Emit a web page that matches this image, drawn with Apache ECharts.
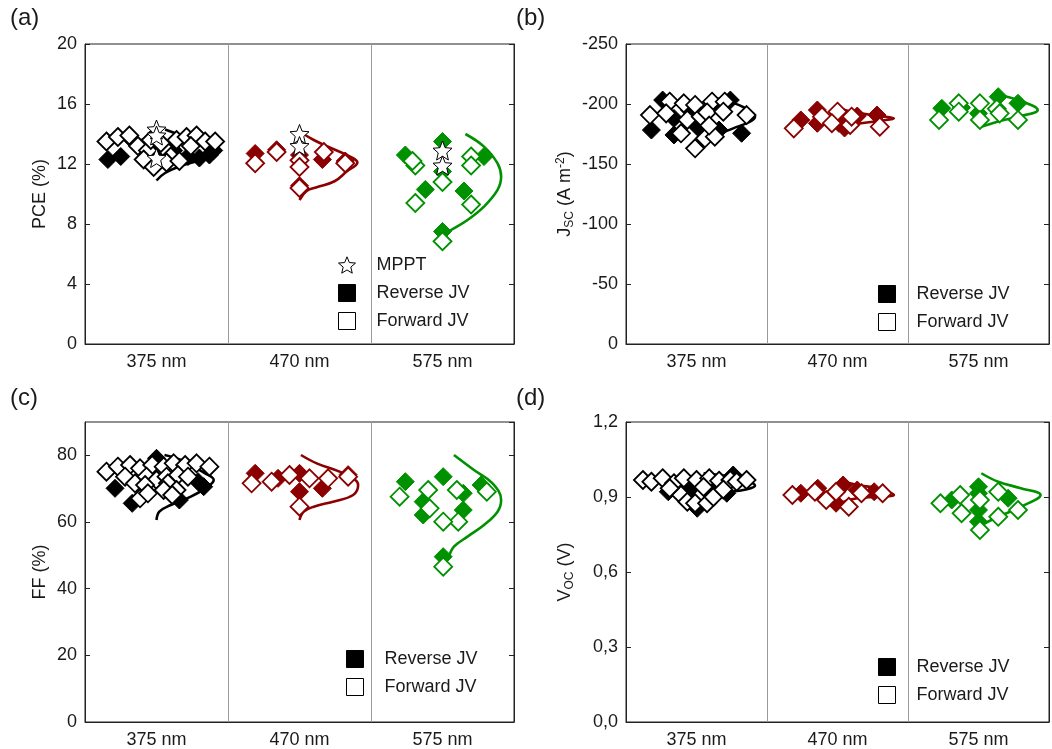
<!DOCTYPE html>
<html><head><meta charset="utf-8">
<script src="https://cdn.jsdelivr.net/npm/echarts@6/dist/echarts.min.js"></script>
<style>html,body{margin:0;padding:0;background:#fff}#c{width:1052px;height:749px}</style>
</head><body><div id="c"></div>
<script>
const groupLabels = ['375 nm', '470 nm', '575 nm'];
const groupColors = ['#000000', '#8b0000', '#009100'];

// (a) PCE (%)  points: [position along group axis, value]
const pceReverse = [
  [[0.16,12.3],[0.25,12.5],[0.33,13.6],[0.40,13.1],[0.47,12.6],[0.62,12.9],[0.72,12.5],[0.80,12.4],[0.87,12.6],[0.90,12.9]],
  [[1.19,12.7],[1.34,12.95],[1.50,12.6],[1.50,10.55],[1.66,12.3],[1.82,12.2]],
  [[2.24,12.6],[2.50,13.5],[2.50,11.5],[2.38,10.3],[2.65,10.2],[2.79,12.5],[2.50,7.5]]
];
const pceForward = [
  [[0.15,13.5],[0.23,13.8],[0.31,13.9],[0.37,13.2],[0.44,12.9],[0.46,13.6],[0.55,13.1],[0.60,12.5],[0.64,13.6],[0.71,13.8],[0.78,13.9],[0.84,13.5],[0.91,13.5],[0.41,12.3],[0.48,11.8],[0.57,12.1],[0.66,12.2],[0.53,13.4],[0.74,13.2]],
  [[1.19,12.05],[1.34,12.8],[1.50,12.25],[1.50,11.8],[1.50,10.4],[1.67,12.8],[1.82,12.05]],
  [[2.31,11.9],[2.29,12.2],[2.50,10.8],[2.31,9.4],[2.70,9.3],[2.70,12.5],[2.70,11.9],[2.50,6.85]]
];
const pceMPPT = [[0.5,14.3],[0.5,13.9],[0.5,12.4],[1.5,14.0],[1.5,13.2],[2.5,12.9],[2.5,11.9]];
// distribution curves: [offset from group centre, value]
const pceFit = [
  [[0.06,14.3],[0.2,13.8],[0.36,13.2],[0.40,12.9],[0.34,12.4],[0.18,11.9],[0.06,11.4],[0.0,10.9]],
  [[0.02,14.05],[0.1,13.6],[0.2,13.15],[0.33,12.6],[0.405,12.1],[0.33,11.5],[0.245,10.85],[0.12,10.45],[0.05,10.2],[0.0,9.6]],
  [[0.16,14.0],[0.29,13.16],[0.385,12.04],[0.41,11.16],[0.385,10.27],[0.29,9.16],[0.175,8.27],[0.06,7.6],[0.0,7.2]]
];

// (b) Jsc (A m^-2)
const jscReverse = [
  [[0.18,-178.3],[0.26,-203.3],[0.34,-188],[0.34,-174.2],[0.505,-181.1],[0.66,-197.8],[0.66,-178.3],[0.74,-203.3],[0.82,-175.6],[0.45,-195]],
  [[1.24,-186.7],[1.357,-195],[1.357,-183.9],[1.51,-183.9],[1.55,-180],[1.64,-190],[1.78,-190.8]],
  [[2.24,-196.4],[2.38,-197],[2.50,-192.2],[2.64,-206.1],[2.78,-200.6]]
];
const jscForward = [
  [[0.17,-190.8],[0.31,-201.9],[0.285,-192.2],[0.41,-200.6],[0.49,-199.2],[0.39,-175.6],[0.435,-186.7],[0.53,-189.4],[0.49,-163.1],[0.56,-171.4],[0.61,-201.9],[0.575,-193],[0.63,-172.8],[0.70,-201.9],[0.69,-193.6],[0.855,-190.8],[0.59,-182]],
  [[1.19,-179.7],[1.39,-189.4],[1.50,-193.6],[1.59,-182.5],[1.60,-189.4],[1.80,-181.1],[1.46,-184]],
  [[2.22,-186.7],[2.36,-200.6],[2.36,-193.6],[2.51,-200.6],[2.51,-186.7],[2.63,-196],[2.65,-192.2],[2.78,-186.7]]
];
const jscFit = [
  [[0.02,-164],[0.12,-172.8],[0.26,-179.7],[0.38,-185.3],[0.415,-189.4],[0.35,-196.4],[0.235,-201.9],[0.13,-204.7]],
  [[0.01,-197],[0.1,-193.5],[0.3,-190],[0.40,-188],[0.3,-186],[0.1,-182.5],[0.01,-178]],
  [[0.135,-207.5],[0.28,-203.3],[0.42,-195],[0.28,-189.4],[0.135,-185.3],[0.02,-181]]
];

// (c) FF (%)
const ffReverse = [
  [[0.21,70.1],[0.33,65.6],[0.45,74.5],[0.50,79.1],[0.58,73.0],[0.66,66.6],[0.79,72.1],[0.83,70.6]],
  [[1.19,74.6],[1.35,73.1],[1.50,74.6],[1.50,69.1],[1.66,70.1],[1.84,74.2]],
  [[2.24,72.1],[2.365,66.1],[2.365,62.1],[2.505,73.6],[2.645,68.6],[2.645,63.6],[2.77,71.1],[2.505,49.6]]
];
const ffForward = [
  [[0.15,75.1],[0.23,76.6],[0.315,77.1],[0.385,76.1],[0.47,77.1],[0.55,76.6],[0.62,77.6],[0.70,77.1],[0.78,77.6],[0.87,76.6],[0.28,73.6],[0.43,73.6],[0.50,72.6],[0.57,73.6],[0.65,74.1],[0.72,73.6],[0.35,71.6],[0.42,71.1],[0.58,71.6],[0.64,69.6],[0.385,67.1],[0.44,68.6],[0.55,69.6],[0.61,68.1]],
  [[1.165,71.6],[1.305,72.1],[1.43,74.1],[1.57,73.1],[1.50,64.6],[1.70,73.1],[1.84,73.6]],
  [[2.20,67.6],[2.40,69.6],[2.41,64.1],[2.60,69.6],[2.61,60.1],[2.505,60.1],[2.81,69.1],[2.505,46.6]]
];
const ffFit = [
  [[0.056,80.1],[0.17,78.6],[0.34,74.6],[0.40,72.6],[0.36,70.6],[0.24,67.6],[0.10,65.1],[0.02,63.1],[0.0,60.6]],
  [[0.01,80.1],[0.12,77.6],[0.28,75.1],[0.39,72.6],[0.41,71.1],[0.375,68.1],[0.235,66.1],[0.10,64.6],[0.03,63.1],[0.0,60.6]],
  [[0.08,80.1],[0.22,75.6],[0.35,71.6],[0.41,66.6],[0.385,63.1],[0.29,59.1],[0.175,55.6],[0.08,52.6],[0.045,49.6]]
];

// (d) Voc (V)
const vocReverse = [
  [[0.30,0.921],[0.45,0.935],[0.495,0.935],[0.505,0.855],[0.60,0.928],[0.66,0.948],[0.715,0.915],[0.76,0.988]],
  [[1.24,0.915],[1.36,0.935],[1.49,0.875],[1.54,0.948],[1.64,0.928],[1.76,0.921]],
  [[2.31,0.888],[2.50,0.941],[2.50,0.915],[2.50,0.848],[2.50,0.801],[2.71,0.895]]
];
const vocForward = [
  [[0.12,0.968],[0.18,0.961],[0.26,0.975],[0.34,0.955],[0.41,0.975],[0.50,0.968],[0.59,0.975],[0.66,0.965],[0.74,0.968],[0.785,0.961],[0.855,0.968],[0.39,0.908],[0.435,0.881],[0.53,0.905],[0.49,0.875],[0.575,0.875],[0.62,0.9],[0.31,0.935],[0.55,0.94],[0.69,0.93]],
  [[1.18,0.908],[1.34,0.921],[1.42,0.888],[1.49,0.921],[1.58,0.861],[1.67,0.915],[1.82,0.915]],
  [[2.23,0.875],[2.37,0.908],[2.38,0.835],[2.51,0.888],[2.51,0.768],[2.64,0.921],[2.64,0.821],[2.78,0.848]]
];
const vocFit = [
  [[0.05,0.995],[0.2,0.985],[0.35,0.967],[0.415,0.945],[0.35,0.93],[0.21,0.918],[0.06,0.9],[0.0,0.885]],
  [[0.01,0.968],[0.14,0.948],[0.28,0.935],[0.40,0.908],[0.28,0.901],[0.14,0.895],[0.045,0.881],[0.0,0.87]],
  [[0.02,0.995],[0.14,0.961],[0.30,0.935],[0.44,0.908],[0.30,0.861],[0.14,0.821],[0.045,0.795],[0.0,0.781]]
];

const FONT = '"Liberation Sans", Arial, sans-serif';
const TXT = '#1a1a1a';
const STAR = 'path://M12,1.5 L14.9,8.6 L22.5,9.2 L16.7,14.2 L18.5,21.7 L12,17.7 L5.5,21.7 L7.3,14.2 L1.5,9.2 L9.1,8.6 Z';

const grids = [
  {left: 85, top: 44, width: 429, height: 300},
  {left: 626, top: 44, width: 429, height: 300},
  {left: 85, top: 422, width: 429, height: 300},
  {left: 626, top: 422, width: 429, height: 300}
].map(g => Object.assign({show: true, borderColor: '#222', borderWidth: 1, backgroundColor: 'transparent'}, g));

const xAxes = grids.map((g, i) => ({
  type: 'value', gridIndex: i, min: 0, max: 3, interval: 0.5,
  axisLine: {show: true, lineStyle: {color: '#222', width: 1}},
  axisTick: {show: false},
  splitLine: {show: false},
  axisLabel: {
    fontSize: 18, color: TXT, fontFamily: FONT, margin: 9,
    formatter: v => { const k = Math.floor(v); return Math.abs(v - k - 0.5) < 1e-6 ? groupLabels[k] : ''; }
  }
}));

const yDefs = [
  {min: 0, max: 20, interval: 4, name: 'PCE (%)', nameGap: 36},
  {min: -250, max: 0, interval: 50, inverse: true,
   name: '{n|J}{s|SC}{n| (A m}{p|-2}{n|)}', nameGap: 50},
  {min: 0, max: 90, interval: 20, name: 'FF (%)', nameGap: 36, showMaxLabel: false},
  {min: 0, max: 1.2, interval: 0.3, name: '{n|V}{s|OC}{n| (V)}', nameGap: 50,
   fmt: v => v.toFixed(1).replace('.', ',')}
];
const yAxes = [];
yDefs.forEach((d, i) => {
  yAxes.push({
    type: 'value', gridIndex: i, position: 'left', min: d.min, max: d.max, interval: d.interval,
    inverse: !!d.inverse,
    axisLine: {show: true, lineStyle: {color: '#222', width: 1}},
    axisTick: {show: true, inside: true, length: 5, lineStyle: {color: '#222'}},
    splitLine: {show: false},
    axisLabel: {fontSize: 18, color: TXT, fontFamily: FONT, margin: 8,
      showMaxLabel: d.showMaxLabel === false ? false : true,
      formatter: d.fmt ? d.fmt : (v => String(v))},
    name: d.name, nameLocation: 'middle', nameGap: d.nameGap, nameRotate: 90,
    nameTextStyle: {fontSize: 18, color: TXT, fontFamily: FONT,
      rich: {
        n: {fontSize: 18, color: TXT, fontFamily: FONT},
        s: {fontSize: 12, color: TXT, fontFamily: FONT, padding: [9, 0, 0, 0]},
        p: {fontSize: 12, color: TXT, fontFamily: FONT, padding: [0, 0, 9, 0]}
      }}
  });
  yAxes.push({
    type: 'value', gridIndex: i, position: 'right', min: d.min, max: d.max, interval: d.interval,
    inverse: !!d.inverse,
    axisLine: {show: true, lineStyle: {color: '#222', width: 1}},
    axisTick: {show: true, inside: true, length: 5, lineStyle: {color: '#222'}},
    axisLabel: {show: false}, splitLine: {show: false}
  });
});

const SZ = 18;
const series = [];
function addPanel(pi, rev, fwd, fit, stars) {
  const yi = pi * 2;
  for (let g = 0; g < 3; g++) {
    const c = groupColors[g];
    series.push({
      type: 'line', xAxisIndex: pi, yAxisIndex: yi, z: 2, silent: true,
      data: fit[g].map(p => [g + 0.5 + p[0], p[1]]),
      smooth: 0.4, showSymbol: false, symbol: 'none',
      lineStyle: {color: c, width: 2.6},
      markLine: g === 0 ? {
        silent: true, symbol: ['none', 'none'], label: {show: false},
        lineStyle: {color: '#9a9a9a', width: 1, type: 'solid'},
        data: [{xAxis: 1}, {xAxis: 2}]
      } : undefined
    });
    series.push({
      type: 'scatter', xAxisIndex: pi, yAxisIndex: yi, z: 3, silent: true,
      symbol: 'diamond', symbolSize: SZ, data: rev[g],
      itemStyle: {color: c, borderColor: c, borderWidth: 1, opacity: 1}
    });
    series.push({
      type: 'scatter', xAxisIndex: pi, yAxisIndex: yi, z: 4, silent: true,
      symbol: 'diamond', symbolSize: SZ, data: fwd[g],
      itemStyle: {color: '#ffffff', borderColor: c, borderWidth: 1.8, opacity: 1}
    });
  }
  if (stars) {
    series.push({
      type: 'scatter', xAxisIndex: pi, yAxisIndex: yi, z: 5, silent: true,
      symbol: STAR, symbolSize: 19, data: stars,
      itemStyle: {color: '#ffffff', borderColor: '#000', borderWidth: 1, opacity: 1}
    });
  }
}
addPanel(0, pceReverse, pceForward, pceFit, pceMPPT);
addPanel(1, jscReverse, jscForward, jscFit, null);
addPanel(2, ffReverse, ffForward, ffFit, null);
addPanel(3, vocReverse, vocForward, vocFit, null);

// legend-only series
series.push({type: 'scatter', name: 'MPPT', data: [], xAxisIndex: 0, yAxisIndex: 0, symbol: STAR,
  itemStyle: {color: '#fff', borderColor: '#000', borderWidth: 1, opacity: 1}});
series.push({type: 'scatter', name: 'Reverse JV', data: [], xAxisIndex: 0, yAxisIndex: 0,
  itemStyle: {color: '#000', borderColor: '#000', borderWidth: 1, opacity: 1}});
series.push({type: 'scatter', name: 'Forward JV', data: [], xAxisIndex: 0, yAxisIndex: 0,
  itemStyle: {color: '#fff', borderColor: '#000', borderWidth: 1, opacity: 1}});

const legItems = {
  MPPT: {name: 'MPPT', icon: STAR, itemStyle: {color: '#fff', borderColor: '#000', borderWidth: 1, opacity: 1}},
  Rev: {name: 'Reverse JV', icon: 'rect', itemStyle: {color: '#000', borderColor: '#000', borderWidth: 1, opacity: 1}},
  Fwd: {name: 'Forward JV', icon: 'rect', itemStyle: {color: '#fff', borderColor: '#000', borderWidth: 1, opacity: 1}}
};
function leg(left, top, items) {
  return {orient: 'vertical', left, top, itemWidth: 17, itemHeight: 17, itemGap: 10,
    selectedMode: false, data: items,
    textStyle: {fontSize: 18, color: TXT, fontFamily: FONT, padding: [0, 0, 0, 16]}};
}

const option = {
  animation: false,
  backgroundColor: '#fff',
  textStyle: {fontFamily: FONT},
  grid: grids, xAxis: xAxes, yAxis: yAxes, series,
  legend: [
    leg(333, 251, [legItems.MPPT, legItems.Rev, legItems.Fwd]),
    leg(873, 280, [legItems.Rev, legItems.Fwd]),
    leg(341, 645, [legItems.Rev, legItems.Fwd]),
    leg(873, 653, [legItems.Rev, legItems.Fwd])
  ],
  graphic: [
    {type: 'text', left: 10, top: 6, style: {text: '(a)', fontSize: 24, fill: TXT, fontFamily: FONT}},
    {type: 'text', left: 516, top: 6, style: {text: '(b)', fontSize: 24, fill: TXT, fontFamily: FONT}},
    {type: 'text', left: 10, top: 386, style: {text: '(c)', fontSize: 24, fill: TXT, fontFamily: FONT}},
    {type: 'text', left: 516, top: 386, style: {text: '(d)', fontSize: 24, fill: TXT, fontFamily: FONT}}
  ]
};
const chart = echarts.init(document.getElementById('c'), null, {renderer: 'canvas'});
chart.setOption(option);
</script>
</body></html>
